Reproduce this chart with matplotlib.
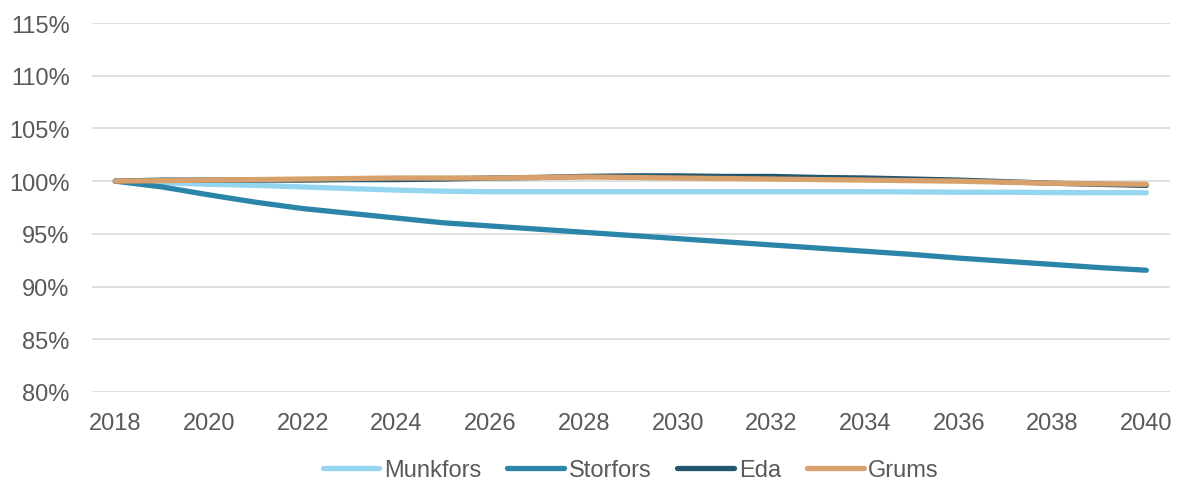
import matplotlib.pyplot as plt
from matplotlib.ticker import FuncFormatter

plt.rcParams['font.family'] = ['Liberation Sans', 'DejaVu Sans']

years = list(range(2018, 2041))
munkfors = [100.0, 99.85, 99.7, 99.6, 99.45, 99.3, 99.15, 99.05, 99.0, 99.0, 99.0, 99.0, 99.0,
            99.0, 99.0, 99.0, 99.0, 98.98, 98.95, 98.95, 98.92, 98.9, 98.9]
storfors = [100.0, 99.45, 98.7, 98.0, 97.4, 96.95, 96.5, 96.05, 95.75, 95.45, 95.15, 94.85, 94.55,
            94.25, 93.95, 93.65, 93.35, 93.05, 92.7, 92.4, 92.1, 91.8, 91.55]
eda = [100.0, 100.1, 100.1, 100.1, 100.1, 100.15, 100.15, 100.2, 100.3, 100.35, 100.45, 100.5, 100.5,
       100.45, 100.45, 100.35, 100.3, 100.2, 100.1, 99.95, 99.8, 99.7, 99.6]
grums = [100.0, 100.05, 100.1, 100.15, 100.2, 100.25, 100.3, 100.3, 100.3, 100.35, 100.4, 100.35, 100.3,
         100.25, 100.2, 100.15, 100.1, 100.05, 100.0, 99.9, 99.8, 99.75, 99.7]

series = [
    ("Munkfors", munkfors, "#94D5EF"),
    ("Storfors", storfors, "#2A85A8"),
    ("Eda", eda, "#23566E"),
    ("Grums", grums, "#D8A06A"),
]

fig, ax = plt.subplots(figsize=(11.78, 4.81), dpi=100)
for name, vals, color in series:
    ax.plot(years, vals, color=color, linewidth=3.8, label=name,
            solid_capstyle="round", solid_joinstyle="round")

ax.set_xlim(2017.5, 2040.5)
ax.set_ylim(80, 115)
ax.set_yticks(range(80, 116, 5))
ax.set_xticks(range(2018, 2041, 2))
ax.yaxis.set_major_formatter(FuncFormatter(lambda v, p: f"{v:.0f}%"))
ax.grid(axis="y", color="#D9D9D9", linewidth=1.2)
ax.set_axisbelow(True)
for s in ax.spines.values():
    s.set_visible(False)
ax.tick_params(axis="both", length=0, labelsize=17, labelcolor="#595959")
ax.tick_params(axis="y", pad=16)
ax.tick_params(axis="x", pad=14.5)

# legend centred under the plot area, not the whole figure
left, right = 0.078, 0.993
ax.legend(loc="center", bbox_to_anchor=((left + right) / 2, 0.021), bbox_transform=fig.transFigure,
          ncol=4, frameon=False, fontsize=17, labelcolor="#595959",
          handlelength=2.4, handletextpad=0.2, columnspacing=1.1, borderpad=0)

fig.subplots_adjust(left=left, right=right, top=0.95, bottom=0.183)
fig.savefig("out.png")
